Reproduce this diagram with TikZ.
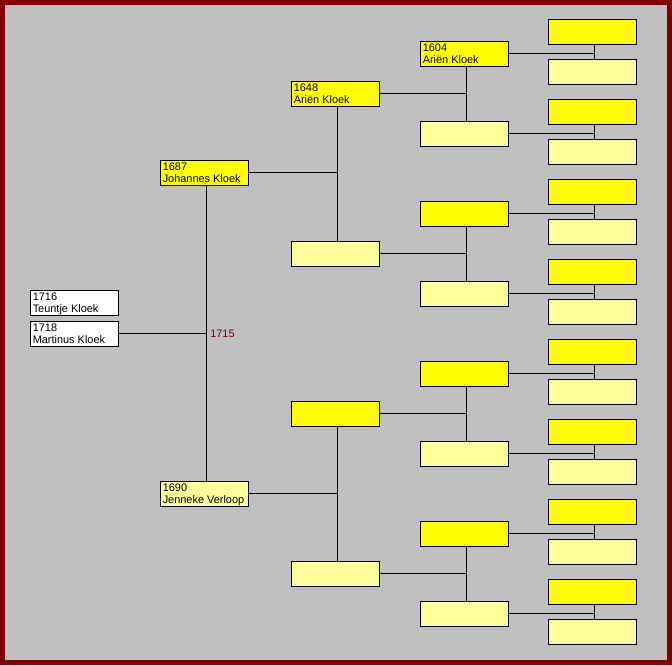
\documentclass[tikz,border=0pt]{standalone}
\usepackage{fontspec}
\setmainfont{Liberation Sans}
\usetikzlibrary{positioning}

\definecolor{frame}{RGB}{128,0,0}
\definecolor{panel}{RGB}{192,192,192}
\definecolor{male}{RGB}{255,255,0}
\definecolor{female}{RGB}{255,255,153}

\tikzset{
  box/.style={draw=black, line width=0.75pt, minimum width=66pt, minimum height=18.75pt, inner sep=0pt, outer sep=0pt, anchor=north west},
  boxtext/.style={anchor=north west, inner sep=0pt, align=left, font=\fontsize{8.2}{9}\selectfont},
  link/.style={line width=0.75pt},
}

\begin{document}
\begin{tikzpicture}[x=0.75pt,y=0.75pt,yscale=-1,xscale=1]
    % frame and panel
    \fill [frame] (0,0) rectangle (672,665);
    \fill [panel] (5,5) rectangle (667,660);

    % children
    \node [box, fill=white] (g1-0) at (30,290) {};
    \node [box, fill=white] (g1-1) at (30,321) {};
    % parents
    \node [box, fill=male] (g2-0) at (160,160) {};
    \node [box, fill=female] (g2-1) at (160,481) {};
    % grandparents
    \foreach \i in {0,...,3} {
      \ifodd\i \def\col{female}\else\def\col{male}\fi
      \node [box, fill=\col] (g3-\i) at (291,{81+160*\i}) {};
    }
    % great-grandparents
    \foreach \i in {0,...,7} {
      \ifodd\i \def\col{female}\else\def\col{male}\fi
      \node [box, fill=\col] (g4-\i) at (420,{41+80*\i}) {};
    }
    % great-great-grandparents
    \foreach \i in {0,...,15} {
      \ifodd\i \def\col{female}\else\def\col{male}\fi
      \node [box, fill=\col] (g5-\i) at (548,{19+40*\i}) {};
    }

    % couples and their child
    \coordinate (v2) at ([xshift=1.9pt]g2-0.south);
    \draw [link] (v2) -- (v2 |- g2-1.north);
    \draw [link] (g1-1.east) -- (g1-1.east -| v2);
    \foreach \i [evaluate=\i as \a using int(2*\i), evaluate=\i as \b using int(2*\i+1)] in {0,1} {
      \coordinate (v3-\i) at ([xshift=1.9pt]g3-\a.south);
      \draw [link] (v3-\i) -- (v3-\i |- g3-\b.north);
      \draw [link] (g2-\i.east) -- (g2-\i.east -| v3-\i);
    }
    \foreach \i [evaluate=\i as \a using int(2*\i), evaluate=\i as \b using int(2*\i+1)] in {0,...,3} {
      \coordinate (v4-\i) at ([xshift=1.9pt]g4-\a.south);
      \draw [link] (v4-\i) -- (v4-\i |- g4-\b.north);
      \draw [link] (g3-\i.east) -- (g3-\i.east -| v4-\i);
    }
    \foreach \i [evaluate=\i as \a using int(2*\i), evaluate=\i as \b using int(2*\i+1)] in {0,...,7} {
      \coordinate (v5-\i) at ([xshift=1.9pt]g5-\a.south);
      \draw [link] (v5-\i) -- (v5-\i |- g5-\b.north);
      \draw [link] (g4-\i.east) -- (g4-\i.east -| v5-\i);
    }

    % marriage year
    \node [boxtext, anchor=west, text=frame, right=2.6pt of {g1-1.east -| v2}] (wed) {1715};

    % Text Node
    \node [boxtext] (t1-0) at ([shift={(2.5,2.3)}]g1-0.north west) {1716\\Teuntje Kloek};
    \node [boxtext] (t1-1) at ([shift={(2.5,2.3)}]g1-1.north west) {1718\\Martinus Kloek};
    \node [boxtext] (t2-0) at ([shift={(2.5,2.3)}]g2-0.north west) {1687\\Johannes Kloek};
    \node [boxtext] (t2-1) at ([shift={(2.5,2.3)}]g2-1.north west) {1690\\Jenneke Verloop};
    \node [boxtext] (t3-0) at ([shift={(2.5,2.3)}]g3-0.north west) {1648\\Ariën Kloek};
    \node [boxtext] (t4-0) at ([shift={(2.5,2.3)}]g4-0.north west) {1604\\Ariën Kloek};
\end{tikzpicture}
\end{document}
